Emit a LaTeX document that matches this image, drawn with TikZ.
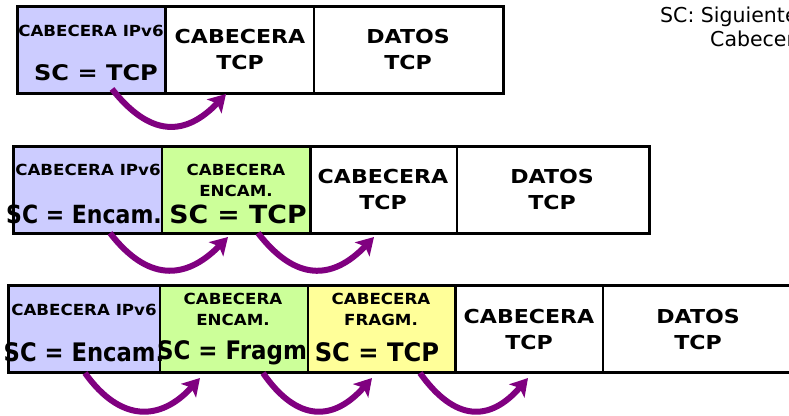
\documentclass[tikz,border=0pt]{standalone}
\usepackage{fontspec}
\setmainfont{DejaVu Sans}[FakeStretch=1.15]
\newfontfamily\notefont{DejaVu Sans}
\newfontfamily\lblfont{DejaVu Sans}[FakeStretch=1.09]
\usetikzlibrary{arrows.meta}
\definecolor{cblue}{HTML}{CCCCFF}
\definecolor{cgreen}{HTML}{CCFF99}
\definecolor{cyellow}{HTML}{FFFF99}
\definecolor{cpurple}{HTML}{800080}
\begin{document}
\begin{tikzpicture}[x=1pt,y=-1pt,
  cell/.style={draw=black,line width=1.2pt,inner sep=0pt,outer sep=0pt,anchor=north west,minimum height=87pt},
  frame/.style={draw=black,line width=3pt},
  divider/.style={draw=black,line width=3pt},
  lbl/.style={font=\lblfont\bfseries\fontsize{15.3}{21}\selectfont,align=center,inner sep=0pt},
  big/.style={font=\bfseries\fontsize{19.2}{26}\selectfont,align=center,inner sep=0pt},
  sc/.style={font=\notefont\bfseries\fontsize{25}{28}\selectfont,inner sep=0pt},
  nexthdr/.style={draw=cpurple,line width=6pt,-{Stealth[length=17pt,width=20pt,inset=4pt]}},
  note/.style={font=\notefont\fontsize{20.5}{22}\selectfont,inner sep=0pt,anchor=base west}]
\path[use as bounding box,clip] (0,0) rectangle (789,415);
\fill[white] (0,0) rectangle (789,415);

% ---------- row 1 ----------
\node[cell,fill=cblue,minimum width=148pt] (a1) at (17,6) {};
\node[cell,fill=white,minimum width=149pt] (a2) at (165,6) {};
\node[cell,fill=white,minimum width=189pt] (a3) at (314,6) {};
\draw[frame] (a1.north west) rectangle (a3.south east);
\draw[divider] (a2.north west) -- (a2.south west);
\node[lbl] (a1t) at (91,30.5) {CABECERA IPv6};
\node[sc,font=\notefont\bfseries\fontsize{21.5}{24}\selectfont] (a1s) at (96,73) {\scalebox{1.12}[1]{SC = TCP}};
\node[big] (a2t) at (240,50) {CABECERA\\TCP};
\node[big] (a3t) at (408,50) {DATOS\\TCP};
\coordinate (a1o) at (112,89);
\coordinate (a2i) at (226,94);
\draw[nexthdr] (a1o) .. controls (150,137) and (185,137) .. (a2i);

% ---------- row 2 ----------
\node[cell,fill=cblue,minimum width=149pt] (b1) at (13,146) {};
\node[cell,fill=cgreen,minimum width=148pt] (b2) at (162,146) {};
\node[cell,fill=white,minimum width=147pt] (b3) at (310,146) {};
\node[cell,fill=white,minimum width=192pt] (b4) at (457,146) {};
\draw[frame] (b1.north west) rectangle (b4.south east);
\draw[divider] (b3.north west) -- (b3.south west);
\node[lbl] (b1t) at (88,170) {CABECERA IPv6};
\node[lbl] (b2t) at (236,180) {CABECERA\\ENCAM.};
\node[sc] (b1s) at (84,214) {\scalebox{0.88}[1]{SC = Encam.}};
\node[sc] (b2s) at (238,214) {\scalebox{1.07}[1]{SC = TCP}};
\node[big] (b3t) at (383,190) {CABECERA\\TCP};
\node[big] (b4t) at (552,190) {DATOS\\TCP};
\coordinate (b1o) at (110,233);
\coordinate (b2i) at (228,237);
\coordinate (b2o) at (258,233);
\coordinate (b3i) at (374,237);
\draw[nexthdr] (b1o) .. controls (147,281) and (185,281) .. (b2i);
\draw[nexthdr] (b2o) .. controls (295,281) and (332,281) .. (b3i);

% ---------- row 3 ----------
\node[cell,fill=cblue,minimum width=152pt] (c1) at (8,285) {};
\node[cell,fill=cgreen,minimum width=148pt] (c2) at (160,285) {};
\node[cell,fill=cyellow,minimum width=147pt] (c3) at (308,285) {};
\node[cell,fill=white,minimum width=148pt] (c4) at (455,285) {};
\node[cell,fill=white,minimum width=196pt] (c5) at (603,285) {};
\draw[frame] (c1.north west) rectangle (c5.south east);
\draw[divider] (c4.north west) -- (c4.south west);
\node[lbl] (c1t) at (84,310) {CABECERA IPv6};
\node[lbl] (c2t) at (233,309) {CABECERA\\ENCAM.};
\node[lbl] (c3t) at (381,309) {CABECERA\\FRAGM.};
\node[sc,font=\notefont\bfseries\fontsize{25.5}{28}\selectfont] (c1s) at (84,352.5) {\scalebox{0.89}[1]{SC = Encam.}};
\node[sc,font=\notefont\bfseries\fontsize{25.5}{28}\selectfont] (c2s) at (232,352.5) {\scalebox{0.9}[1]{SC = Fragm}};
\node[sc,font=\notefont\bfseries\fontsize{25.5}{28}\selectfont] (c3s) at (377,352.5) {\scalebox{0.95}[1]{SC = TCP}};
\node[big] (c4t) at (529,330) {CABECERA\\TCP};
\node[big] (c5t) at (698,330) {DATOS\\TCP};
\coordinate (c1o) at (85,373);
\coordinate (c2i) at (200,378);
\coordinate (c2o) at (263,373);
\coordinate (c3i) at (372,378);
\coordinate (c3o) at (420,373);
\coordinate (c4i) at (528,378);
\draw[nexthdr] (c1o) .. controls (120,422) and (160,422) .. (c2i);
\draw[nexthdr] (c2o) .. controls (297,422) and (333,422) .. (c3i);
\draw[nexthdr] (c3o) .. controls (455,422) and (490,422) .. (c4i);

% ---------- note ----------
\node[note] (n1) at (660,23) {SC: Siguiente};
\node[note] (n2) at (710,46) {Cabecera};
\end{tikzpicture}
\end{document}
